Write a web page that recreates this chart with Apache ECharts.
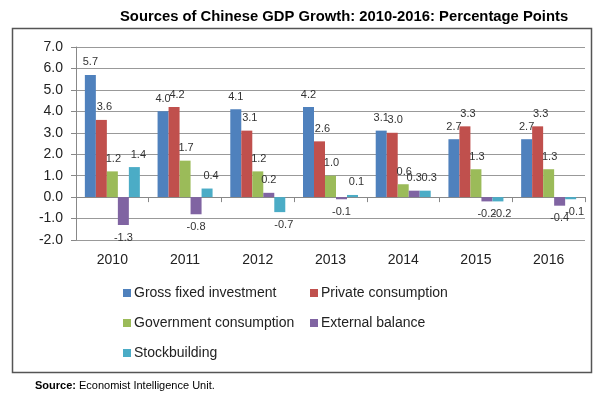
<!DOCTYPE html>
<html>
<head>
<meta charset="utf-8">
<script src="https://cdn.jsdelivr.net/npm/echarts@6/dist/echarts.min.js"></script>
<style>
html,body{margin:0;padding:0;background:#fff;}
#chart{width:601px;height:398px;}
</style>
</head>
<body>
<div id="chart"></div>
<script>
const categories = ['2010', '2011', '2012', '2013', '2014', '2015', '2016'];
const seriesNames = ['Gross fixed investment', 'Private consumption', 'Government consumption', 'External balance', 'Stockbuilding'];
const grossFixedInvestment = [5.7, 4.0, 4.1, 4.2, 3.1, 2.7, 2.7];
const privateConsumption = [3.6, 4.2, 3.1, 2.6, 3.0, 3.3, 3.3];
const governmentConsumption = [1.2, 1.7, 1.2, 1.0, 0.6, 1.3, 1.3];
const externalBalance = [-1.3, -0.8, 0.2, -0.1, 0.3, -0.2, -0.4];
const stockbuilding = [1.4, 0.4, -0.7, 0.1, 0.3, -0.2, -0.1];
const yTicks = [-2, -1, 0, 1, 2, 3, 4, 5, 6, 7];

const seriesValues = [grossFixedInvestment, privateConsumption, governmentConsumption, externalBalance, stockbuilding];
const colors = ['#4F81BD', '#C0504D', '#9BBB59', '#8064A2', '#4BACC6'];
const labelShift = [0, 3, 1, 0, 4];
const FONT = '"Liberation Sans", Arial, sans-serif';

const chart = echarts.init(document.getElementById('chart'), null, {renderer: 'canvas'});

const series = seriesNames.map((name, i) => ({
  name: name,
  type: 'bar',
  xAxisIndex: 0,
  yAxisIndex: 0,
  data: seriesValues[i],
  barWidth: 11,
  barGap: '0%',
  itemStyle: {color: colors[i]},
  label: {
    show: true,
    position: 'outside',
    distance: 7,
    offset: [labelShift[i], 0],
    fontSize: 11,
    fontFamily: FONT,
    color: '#333',
    formatter: p => p.value.toFixed(1)
  }
}));

chart.setOption({
  animation: false,
  color: colors,
  textStyle: {fontFamily: FONT},
  grid: {left: 76, right: 16, top: 47, bottom: 158, containLabel: false},
  graphic: [
    {
      type: 'rect',
      shape: {x: 12.5, y: 28.5, width: 579, height: 344},
      style: {fill: 'none', stroke: '#555', lineWidth: 1.5},
      z: -1
    },
    {
      type: 'text',
      left: 35, top: 380,
      style: {
        text: '{b|Source:} Economist Intelligence Unit.',
        fontSize: 11,
        fontFamily: FONT,
        fill: '#000',
        rich: {b: {fontWeight: 'bold', fontSize: 11, fontFamily: FONT}}
      }
    }
  ],
  title: {
    text: 'Sources of Chinese GDP Growth: 2010-2016: Percentage Points',
    left: 115, top: 4,
    textStyle: {fontSize: 14.8, fontWeight: 'bold', color: '#000', fontFamily: FONT}
  },
  legend: [
    {
      data: [seriesNames[0], seriesNames[2], seriesNames[4]],
      orient: 'vertical',
      left: 118, top: 281,
      itemWidth: 8, itemHeight: 8, itemGap: 16,
      icon: 'rect',
      textStyle: {fontSize: 14, color: '#222', fontFamily: FONT, padding: [0, 0, 0, -2]}
    },
    {
      data: [seriesNames[1], seriesNames[3]],
      orient: 'vertical',
      left: 305, top: 281,
      itemWidth: 8, itemHeight: 8, itemGap: 16,
      icon: 'rect',
      textStyle: {fontSize: 14, color: '#222', fontFamily: FONT, padding: [0, 0, 0, -2]}
    }
  ],
  xAxis: [
    {
      type: 'category',
      data: categories,
      position: 'bottom',
      axisLine: {show: false, onZero: false},
      axisTick: {show: false},
      axisLabel: {fontSize: 14, color: '#222', margin: 13, fontFamily: FONT}
    },
    {
      type: 'category',
      data: categories,
      position: 'bottom',
      axisLine: {show: true, onZero: true, lineStyle: {color: '#888', width: 1}},
      axisTick: {show: true, length: 5, lineStyle: {color: '#888'}},
      axisLabel: {show: false}
    }
  ],
  yAxis: {
    type: 'value',
    min: yTicks[0],
    max: yTicks[yTicks.length - 1],
    interval: 1,
    axisLine: {show: true, lineStyle: {color: '#888'}},
    axisTick: {show: true, length: 5, lineStyle: {color: '#888'}},
    splitLine: {show: true, lineStyle: {color: '#999', width: 1}},
    axisLabel: {fontSize: 14, color: '#222', margin: 13, fontFamily: FONT, formatter: v => v.toFixed(1)}
  },
  series: series
});
</script>
</body>
</html>
